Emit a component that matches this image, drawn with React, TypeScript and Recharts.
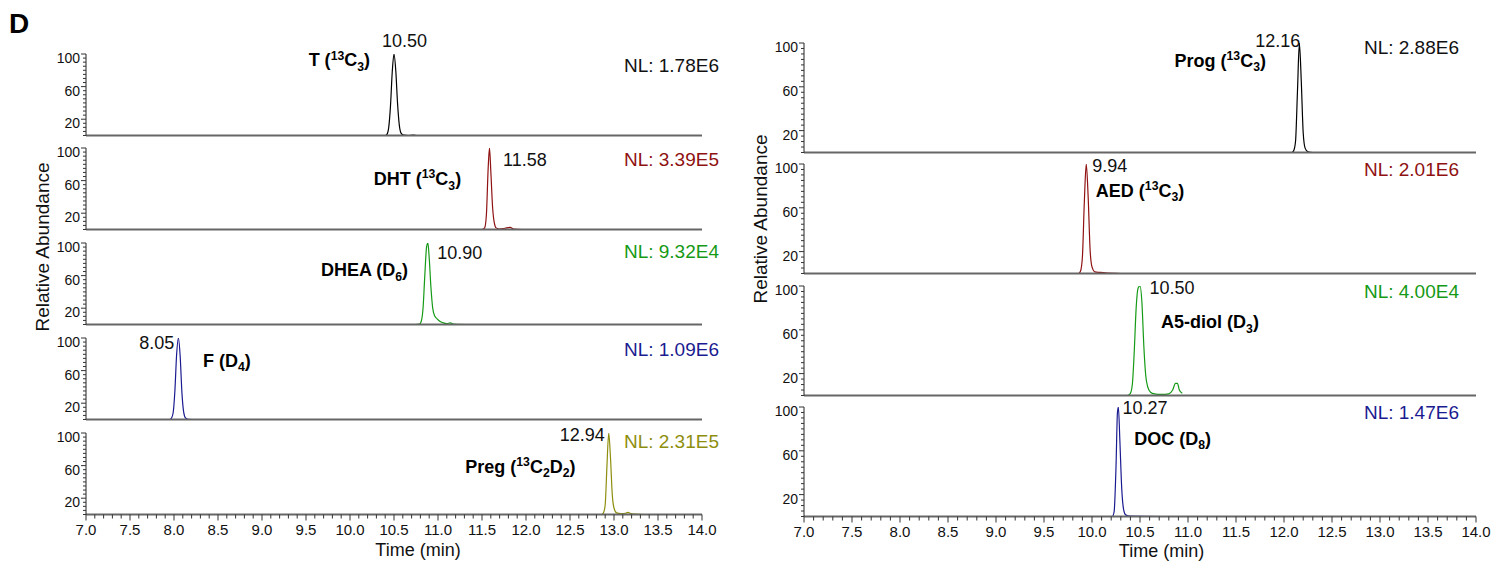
import React from 'react';
import { LineChart, Line, XAxis, YAxis, ReferenceDot } from 'recharts';

type Pt = [number, number];

// [time (min), relative abundance %]
const t13C3: Pt[] = [
  [10.3, 0], [10.4, 0], [10.42, 1.5], [10.44, 10], [10.46, 36], [10.48, 78], [10.5, 100],
  [10.52, 80], [10.54, 40], [10.56, 13], [10.58, 3], [10.61, 0.5], [10.66, 0], [10.72, 0.6],
  [10.76, 0], [10.88, 0],
];
const dht13C3: Pt[] = [
  [11.37, 0], [11.5, 0], [11.53, 2], [11.55, 18], [11.57, 75], [11.585, 100], [11.6, 72],
  [11.62, 28], [11.64, 8], [11.66, 2], [11.7, 0.5], [11.76, 1.5], [11.82, 2.5], [11.86, 0.5],
  [11.95, 0],
];
const dheaD6: Pt[] = [
  [10.74, 0], [10.79, 0.5], [10.81, 4], [10.83, 20], [10.85, 60], [10.87, 95], [10.885, 100],
  [10.9, 82], [10.92, 45], [10.94, 20], [10.96, 11], [10.99, 7], [11.02, 4], [11.06, 2],
  [11.1, 1], [11.14, 2], [11.18, 0.5], [11.31, 0],
];
const fD4: Pt[] = [
  [7.66, 0], [7.95, 0], [7.97, 1.5], [7.99, 8], [8.01, 35], [8.03, 80], [8.05, 100], [8.07, 78],
  [8.09, 33], [8.11, 9], [8.13, 2], [8.16, 0.3], [8.25, 0], [8.64, 0],
];
const preg13C2D2: Pt[] = [
  [12.8, 0], [12.86, 0], [12.88, 2], [12.9, 12], [12.92, 60], [12.94, 100], [12.96, 70],
  [12.98, 25], [13.0, 8], [13.03, 2], [13.08, 1], [13.13, 1.5], [13.16, 2.5], [13.19, 1],
  [13.24, 0.5], [13.34, 0],
];
const prog13C3: Pt[] = [
  [11.94, 0], [12.08, 0], [12.1, 1.5], [12.12, 10], [12.14, 55], [12.16, 100], [12.18, 65],
  [12.2, 18], [12.22, 4], [12.25, 0.5], [12.3, 0], [12.52, 0],
];
const aed13C3: Pt[] = [
  [9.74, 0], [9.86, 0], [9.88, 2], [9.9, 15], [9.92, 65], [9.94, 100], [9.96, 70], [9.98, 22],
  [10.0, 6], [10.03, 1.5], [10.08, 1], [10.14, 0.5], [10.3, 0],
];
const a5diolD3: Pt[] = [
  [10.37, 0], [10.4, 2], [10.42, 10], [10.44, 40], [10.46, 80], [10.48, 98], [10.5, 100],
  [10.52, 85], [10.54, 45], [10.56, 18], [10.58, 8], [10.61, 3], [10.65, 1.5], [10.72, 1],
  [10.8, 1.5], [10.84, 5], [10.87, 11], [10.89, 11], [10.91, 5], [10.94, 2],
];
const docD8: Pt[] = [
  [10.15, 0], [10.21, 0], [10.23, 4], [10.25, 45], [10.265, 95], [10.275, 100], [10.29, 70],
  [10.31, 25], [10.33, 6], [10.35, 1.5], [10.4, 0.3], [10.73, 0],
];

const xTickLabels = [
  '7.0', '7.5', '8.0', '8.5', '9.0', '9.5', '10.0', '10.5', '11.0', '11.5', '12.0', '12.5',
  '13.0', '13.5', '14.0',
];
const yTickLabels = ['20', '60', '100'];
const xTicks = Array.from({ length: 71 }, (_, i) => Math.round(70 + i) / 10);
const yTicks = Array.from({ length: 21 }, (_, i) => i * 5);

type Seg = { s: string; sup?: boolean; sub?: boolean };
const lab = (...parts: (string | [string, 'sup' | 'sub'])[]): Seg[] =>
  parts.map((p) => (typeof p === 'string' ? { s: p } : { s: p[0], [p[1]]: true }));

const FONT = "Arial, 'Liberation Sans', Helvetica, sans-serif";

const RichText = (props: any) => {
  const { viewBox, segs, fs, bold, color, ox = 0, oy = 0, anchor = 'start' } = props;
  const x = (viewBox?.x ?? 0) + ox;
  const y = (viewBox?.y ?? 0) + oy;
  let shift = 0;
  return (
    <text x={x} y={y} fontSize={fs} fontWeight={bold ? 'bold' : 'normal'} fill={color}
      textAnchor={anchor} fontFamily={FONT}>
      {segs.map((g: Seg, i: number) => {
        const target = g.sup ? -fs * 0.38 : g.sub ? fs * 0.25 : 0;
        const d = target - shift;
        shift = target;
        return (
          <tspan key={i} dy={d} fontSize={g.sup || g.sub ? fs * 0.68 : fs}>{g.s}</tspan>
        );
      })}
    </text>
  );
};

const XTick = (props: any) => {
  const { x, y, payload } = props;
  const v = payload.value;
  const major = Math.abs(v * 2 - Math.round(v * 2)) < 1e-6;
  const idx = Math.round((v - 7) * 2);
  return (
    <g>
      <line x1={x} x2={x} y1={y} y2={y + (major ? 6 : 4)} stroke="#333" strokeWidth={1} />
      {major && (
        <text x={x} y={y + 20} textAnchor="middle" fontSize={15} fill="#111" fontFamily={FONT}>
          {xTickLabels[idx]}
        </text>
      )}
    </g>
  );
};

const YTick = (props: any) => {
  const { x, y, payload } = props;
  const label = yTickLabels.find((l) => Number(l) === payload.value);
  return (
    <g>
      <line x1={x - (label ? 5 : 3)} x2={x} y1={y} y2={y} stroke="#333" strokeWidth={1} />
      {label && (
        <text x={x - 6} y={y + 9} textAnchor="end" fontSize={14} fill="#111" fontFamily={FONT}>
          {label}
        </text>
      )}
    </g>
  );
};

type PanelCfg = {
  data: Pt[];
  color: string;
  peak: number;
  peakText: string;
  peakOff: [number, number, 'start' | 'middle' | 'end'];
  name: Seg[];
  namePos: [number, number];
  nl: string;
  nlV: number;
};

const leftPanels: PanelCfg[] = [
  { data: t13C3, color: '#000000', peak: 10.5, peakText: '10.50', peakOff: [10.5, -7.5, 'middle'],
    name: lab('T (', ['13', 'sup'], 'C', ['3', 'sub'], ')'), namePos: [9.53, 84.7],
    nl: 'NL: 1.78E6', nlV: 77.7 },
  { data: dht13C3, color: '#8f1111', peak: 11.58, peakText: '11.58', peakOff: [14, 17.5, 'start'],
    name: lab('DHT (', ['13', 'sup'], 'C', ['3', 'sub'], ')'), namePos: [10.27, 54.6],
    nl: 'NL: 3.39E5', nlV: 78 },
  { data: dheaD6, color: '#159a15', peak: 10.9, peakText: '10.90', peakOff: [8, 15.5, 'start'],
    name: lab('DHEA (D', ['6', 'sub'], ')'), namePos: [9.67, 58.9],
    nl: 'NL: 9.32E4', nlV: 82 },
  { data: fD4, color: '#1b1b91', peak: 8.05, peakText: '8.05', peakOff: [-4, 10.5, 'end'],
    name: lab('F (D', ['4', 'sub'], ')'), namePos: [8.33, 65],
    nl: 'NL: 1.09E6', nlV: 78.5 },
  { data: preg13C2D2, color: '#8e8e0e', peak: 12.94, peakText: '12.94', peakOff: [-4, 7.5, 'end'],
    name: lab('Preg (', ['13', 'sup'], 'C', ['2', 'sub'], 'D', ['2', 'sub'], ')'), namePos: [11.31, 51.5],
    nl: 'NL: 2.31E5', nlV: 82 },
];

const rightPanels: PanelCfg[] = [
  { data: prog13C3, color: '#000000', peak: 12.16, peakText: '12.16', peakOff: [1, 3.5, 'end'],
    name: lab('Prog (', ['13', 'sup'], 'C', ['3', 'sub'], ')'), namePos: [10.86, 78.5],
    nl: 'NL: 2.88E6', nlV: 89.5 },
  { data: aed13C3, color: '#8f1111', peak: 9.94, peakText: '9.94', peakOff: [6, 7.5, 'start'],
    name: lab('AED (', ['13', 'sup'], 'C', ['3', 'sub'], ')'), namePos: [10.04, 70.3],
    nl: 'NL: 2.01E6', nlV: 88.6 },
  { data: a5diolD3, color: '#159a15', peak: 10.5, peakText: '10.50', peakOff: [9.5, 7.5, 'start'],
    name: lab('A5-diol (D', ['3', 'sub'], ')'), namePos: [10.72, 61.2],
    nl: 'NL: 4.00E4', nlV: 89 },
  { data: docD8, color: '#1b1b91', peak: 10.27, peakText: '10.27', peakOff: [4.6, 7, 'start'],
    name: lab('DOC (D', ['8', 'sub'], ')'), namePos: [10.44, 65.3],
    nl: 'NL: 1.47E6', nlV: 88.6 },
];

const MT = 45;
const MR = 45;
const YW = 60;

const Panel = ({ cfg, plotLeft, plotRight, baseline, plotH, bottom, nlOff }: {
  cfg: PanelCfg; plotLeft: number; plotRight: number; baseline: number; plotH: number;
  bottom: boolean; nlOff: number;
}) => {
  const xh = bottom ? 30 : 2;
  const w = plotRight - plotLeft + YW + MR;
  const h = MT + plotH + xh;
  const rows = cfg.data.map(([t, v]) => ({ t, v }));
  return (
    <div style={{ position: 'absolute', left: plotLeft - YW, top: baseline - plotH - MT }}>
      <LineChart width={w} height={h} data={rows} margin={{ top: MT, right: MR, bottom: 0, left: 0 }}>
        <XAxis dataKey="t" type="number" domain={[7, 14]} allowDataOverflow
          ticks={bottom ? xTicks : []} interval={0} height={xh}
          axisLine={{ stroke: '#666', strokeWidth: 2 }} tickLine={false}
          tickSize={0} tickMargin={0} tick={bottom ? <XTick /> : false} />
        <YAxis type="number" domain={[0, 100]} allowDataOverflow ticks={yTicks} interval={0}
          width={YW} axisLine={{ stroke: '#222', strokeWidth: 1 }} tickLine={false}
          tickSize={0} tickMargin={0} tick={<YTick />} />
        <Line type="monotone" dataKey="v" stroke={cfg.color} strokeWidth={1.2} dot={false}
          isAnimationActive={false} />
        <ReferenceDot x={cfg.peak} y={100} r={0} ifOverflow="visible"
          label={<RichText segs={[{ s: cfg.peakText }]} fs={18} color="#111"
            ox={cfg.peakOff[0]} oy={cfg.peakOff[1]} anchor={cfg.peakOff[2]} />} />
        <ReferenceDot x={cfg.namePos[0]} y={cfg.namePos[1]} r={0} ifOverflow="visible"
          label={<RichText segs={cfg.name} fs={18} bold color="#000" />} />
        <ReferenceDot x={14} y={cfg.nlV} r={0} ifOverflow="visible"
          label={<RichText segs={[{ s: cfg.nl }]} fs={19} color={cfg.color === '#000000' ? '#111' : cfg.color}
            ox={nlOff} anchor="end" />} />
      </LineChart>
    </div>
  );
};

const leftBaselines = [135, 229.5, 324, 419, 514];
const rightBaselines = [152, 273, 395, 516.5];

export default function App() {
  return (
    <div style={{ position: 'absolute', left: 0, top: 0, width: 1502, height: 571, background: '#fff',
      overflow: 'hidden', fontFamily: FONT }}>
      {leftPanels.map((p, i) => (
        <Panel key={'l' + i} cfg={p} plotLeft={86} plotRight={702} baseline={leftBaselines[i]}
          plotH={81.5} bottom={i === leftPanels.length - 1} nlOff={17} />
      ))}
      {rightPanels.map((p, i) => (
        <Panel key={'r' + i} cfg={p} plotLeft={803.5} plotRight={1475.5} baseline={rightBaselines[i]}
          plotH={109.5} bottom={i === rightPanels.length - 1} nlOff={-17} />
      ))}
      <svg width={1502} height={571} style={{ position: 'absolute', left: 0, top: 0, pointerEvents: 'none' }}>
        <text x={9} y={33} fontSize={28} fontWeight="bold" fontFamily={FONT}>D</text>
        <text transform="translate(48.5,247) rotate(-90)" textAnchor="middle" fontSize={19}
          fill="#111" fontFamily={FONT}>Relative Abundance</text>
        <text transform="translate(767,219) rotate(-90)" textAnchor="middle" fontSize={19}
          fill="#111" fontFamily={FONT}>Relative Abundance</text>
        <text x={418} y={556} textAnchor="middle" fontSize={18} fill="#111" fontFamily={FONT}>Time (min)</text>
        <text x={1161.5} y={557} textAnchor="middle" fontSize={18} fill="#111" fontFamily={FONT}>Time (min)</text>
      </svg>
    </div>
  );
}
